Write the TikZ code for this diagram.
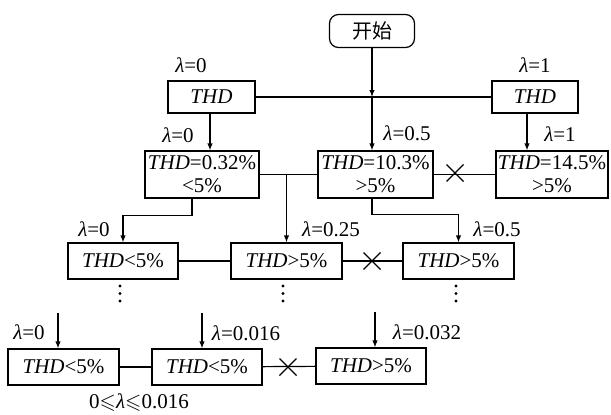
\documentclass[tikz,border=0pt]{standalone}
\usepackage{amssymb}
\usepackage{fontspec}
\setmainfont{Liberation Serif}
\newfontfamily\serifmain{Liberation Serif}
\newfontfamily\cjk{Noto Sans CJK SC}
\usetikzlibrary{arrows.meta}
\newcommand\lmb{\textit{λ}}
\begin{document}
\begin{tikzpicture}[x=1pt,y=-1pt, line width=1.2pt,
  box/.style={draw, rectangle, inner sep=0pt, minimum height=36pt, font=\serifmain\fontsize{21}{23}\selectfont},
  boxtwo/.style={box, minimum height=47pt, align=center},
  lab/.style={font=\serifmain\fontsize{21}{23}\selectfont, inner sep=0pt},
  arr/.style={-{Latex[length=7pt,width=5.5pt]}},
  crossmark/.style={line width=1.1pt}
  ]
\useasboundingbox (0,0) rectangle (611,415);
% nodes
\node[draw, rounded corners=9pt, minimum width=85pt, minimum height=33pt, inner sep=0pt, font=\cjk\fontsize{20}{22}\selectfont] (S) at (372,31) {开始};
\node[box, minimum width=87pt, minimum height=32pt] (T0) at (211.5,97) {\textit{THD}};
\node[box, minimum width=86pt, minimum height=32pt] (T1) at (535,97) {\textit{THD}};
\node[boxtwo, minimum width=114pt] (L1) at (202,174.5) {\textit{THD}=0.32\%\\<5\%};
\node[boxtwo, minimum width=115pt] (M1) at (375.5,174.5) {\textit{THD}=10.3\%\\>5\%};
\node[boxtwo, minimum width=112pt] (R1) at (552,174.5) {\textit{THD}=14.5\%\\>5\%};
\node[box, minimum width=110pt] (A) at (123,261) {\textit{THD}<5\%};
\node[box, minimum width=111pt] (B) at (286.5,261) {\textit{THD}>5\%};
\node[box, minimum width=111pt] (C) at (458.5,261) {\textit{THD}>5\%};
\node[box, minimum width=111pt] (D) at (63.5,367) {\textit{THD}<5\%};
\node[box, minimum width=110pt] (E) at (207,367) {\textit{THD}<5\%};
\node[box, minimum width=110pt] (F) at (371,366) {\textit{THD}>5\%};
% labels
\node[lab] (l1) at (191,65) {\lmb=0};
\node[lab] (l2) at (535,65) {\lmb=1};
\node[lab] (l3) at (178,135) {\lmb=0};
\node[lab] (l4) at (407,133) {\lmb=0.5};
\node[lab] (l5) at (560,134) {\lmb=1};
\node[lab] (l6) at (94,229) {\lmb=0};
\node[lab] (l7) at (331,229) {\lmb=0.25};
\node[lab] (l8) at (497,229) {\lmb=0.5};
\node[lab] (l9) at (29,332) {\lmb=0};
\node[lab] (l10) at (246,333) {\lmb=0.016};
\node[lab] (l11) at (427,332) {\lmb=0.032};
\node[lab] (l12) at (139,403) {0$\leqslant$\lmb$\leqslant$0.016};
% connectors
\coordinate (J) at (S.south |- T0.east);
\draw[arr] (S.south) -- (J);
\draw (T0.east) -- (T1.west);
\draw[arr] (J) -- (S.south |- M1.north);
\draw[arr] ([xshift=-1.5pt]T0.south) -- ([xshift=-1.5pt]T0.south |- L1.north);
\draw[arr] ([xshift=-8pt]T1.south) -- ([xshift=-8pt]T1.south |- R1.north);
\draw (L1.east) -- (M1.west);
\draw (M1.east) -- (R1.west);
\draw[arr] (B.north |- L1.east) -- (B.north);
\draw[arr] ([xshift=-10pt]L1.south) -- ++(0,17) -| (A.north);
\draw[arr] ([xshift=-3.5pt]M1.south) -- ++(0,16) -| (C.north);
\draw (A) -- (B);
\draw (B) -- (C);
\draw (D) -- (E);
\draw (E) -- (F);
\coordinate (D0) at (58,313);
\coordinate (E0) at (202,313);
\coordinate (F0) at (375,312);
\draw[arr] (D0) -- (D0 |- D.north);
\draw[arr] (E0) -- (E0 |- E.north);
\draw[arr] (F0) -- (F0 |- F.north);
% crosses
\coordinate (X1) at (455,173);
\coordinate (X2) at (372,261);
\coordinate (X3) at (288,367);
\foreach \c in {X1,X2,X3}{
  \draw[crossmark] ([shift={(-8.5,-8.5)}]\c) -- ([shift={(8.5,8.5)}]\c);
  \draw[crossmark] ([shift={(-8.5,8.5)}]\c) -- ([shift={(8.5,-8.5)}]\c);
}
% vertical dots
\foreach \x in {120,283,456}{
  \foreach \y in {286,293.5,301}{
    \fill (\x,\y) circle (1.6pt);
  }
}
\end{tikzpicture}
\end{document}
